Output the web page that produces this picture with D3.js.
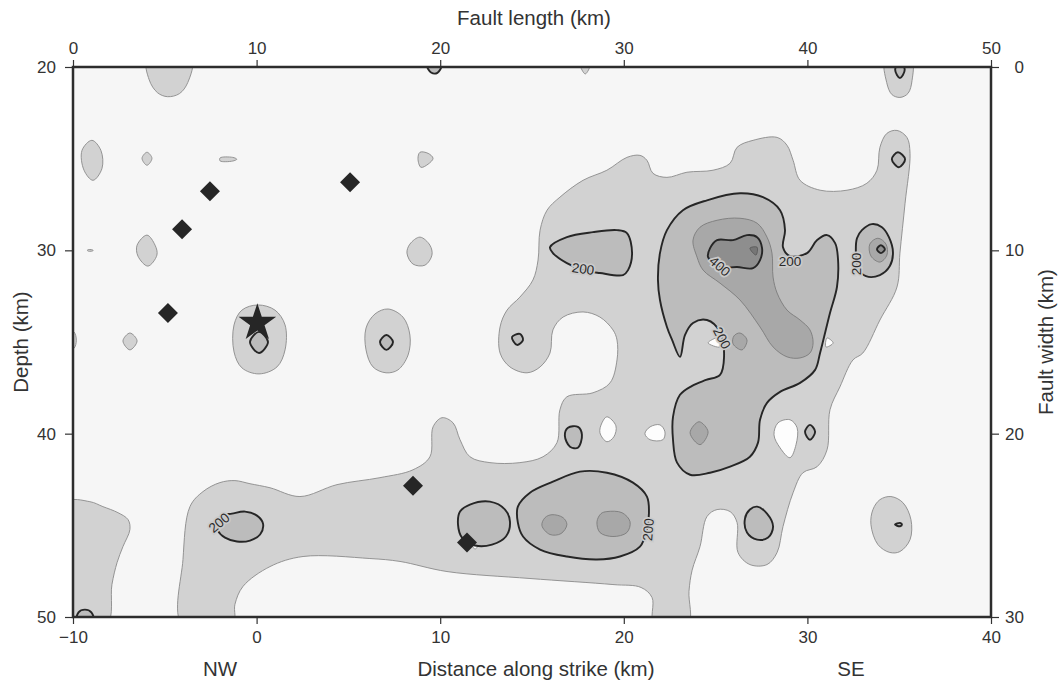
<!DOCTYPE html>
<html><head><meta charset="utf-8">
<script src="https://cdn.jsdelivr.net/npm/d3@7"></script>
<style>
body{margin:0;background:#fff;}
svg text{font-family:"Liberation Sans",Arial,Helvetica,sans-serif;}
</style></head>
<body><svg id="c" width="1064" height="681"></svg>
<script>
// ---- axis ticks ----
const distTicks = [-10, 0, 10, 20, 30, 40];
const depthTicks = [20, 30, 40, 50];
const lengthTicks = [0, 10, 20, 30, 40, 50];
const widthTicks = [0, 10, 20, 30];

// ---- slip contour regions, vertices as [distance along strike km, depth km] ----
// > 100 (light)
const slip100 = [
 [[-4.06,50.4],[-4.01,46.86],[-3.63,43.98],[-2.92,43.16],[-2.0,42.67],[-1.18,42.56],[-0.36,42.73],[0.73,42.95],[2.36,43.43],[4.38,42.78],[6.72,42.40],[8.52,41.97],[9.44,41.26],[9.61,39.63],[10.10,39.13],[10.70,39.41],[11.08,40.33],[11.62,41.26],[12.71,41.58],[14.34,41.58],[15.60,41.26],[16.36,40.49],[16.52,38.70],[16.90,37.99],[18.32,37.77],[19.25,37.23],[19.63,35.98],[19.63,34.89],[19.41,34.34],[18.70,33.64],[17.78,33.36],[16.69,33.64],[16.14,34.34],[15.98,35.60],[15.44,36.36],[14.73,36.68],[13.80,36.36],[13.26,35.60],[13.26,34.18],[13.64,33.26],[14.34,32.55],[15.05,31.62],[15.33,30.53],[15.44,28.90],[15.82,27.81],[16.52,27.10],[17.78,26.18],[19.08,25.63],[20.17,24.93],[20.88,24.82],[21.26,25.09],[21.59,25.80],[22.35,26.02],[23.44,25.74],[24.86,25.63],[25.79,25.25],[26.17,24.38],[27.04,24.0],[28.35,23.84],[28.89,24.27],[29.22,25.09],[29.60,26.18],[30.69,26.72],[32.16,26.72],[33.24,26.34],[33.79,25.63],[33.95,24.38],[34.33,23.62],[34.88,23.46],[35.42,23.84],[35.59,24.71],[35.32,27.43],[35.04,30.15],[34.88,32.0],[33.95,33.80],[33.02,35.60],[32.48,35.98],[31.77,37.45],[31.23,38.70],[31.07,40.88],[30.53,41.80],[29.76,42.13],[29.22,43.22],[28.67,45.07],[28.35,46.48],[27.80,47.14],[26.87,47.14],[26.22,46.48],[26.17,44.85],[25.79,44.25],[25.08,44.14],[24.53,44.52],[24.15,46.16],[23.72,47.45],[23.55,48.6],[23.50,50.4],[21.65,50.4],[21.54,48.94],[20.94,48.39],[19.41,48.23],[14.89,47.90],[10.37,47.52],[7.81,46.97],[6.17,46.81],[2.53,46.70],[0.73,47.25],[-0.74,48.33],[-1.18,49.31],[-1.29,50.4]],
 [[-10.4,43.76],[-9.08,43.71],[-8.37,43.98],[-7.55,44.31],[-7.0,44.69],[-6.90,45.23],[-7.28,46.16],[-7.60,47.03],[-7.88,48.23],[-8.15,50.4],[-10.4,50.4]],
 [[-5.95,19.6],[-5.85,20.7],[-5.4,21.4],[-4.85,21.62],[-4.2,21.45],[-3.75,20.85],[-3.55,19.6]],
 [[34.25,19.6],[34.32,20.85],[34.6,21.5],[35.04,21.66],[35.48,21.44],[35.7,20.73],[35.66,19.6]],
 [[17.65,19.9],[17.9,20.38],[18.15,19.9]],
 [[-8.97,24.0],[-8.48,24.55],[-8.42,25.53],[-8.91,26.18],[-9.40,25.63],[-9.51,24.55]],
 [[-5.97,24.65],[-5.70,24.98],[-5.97,25.36],[-6.24,24.98]],
 [[-1.99,24.96],[-1.3,24.93],[-1.08,25.03],[-1.3,25.13],[-1.99,25.12]],
 [[8.90,24.65],[9.34,24.71],[9.61,24.98],[9.34,25.3],[8.95,25.47],[8.79,25.0]],
 [[-9.2,29.97],[-8.95,29.97],[-8.9,30.0],[-8.95,30.04],[-9.2,30.03]],
 [[-5.97,29.17],[-5.53,29.72],[-5.43,30.26],[-5.92,30.86],[-6.46,30.32],[-6.51,29.72]],
 [[8.90,29.28],[9.44,29.72],[9.55,30.26],[9.17,30.81],[8.52,30.75],[8.19,30.15],[8.35,29.66]],
 [[-6.90,34.51],[-6.51,34.94],[-6.90,35.43],[-7.28,34.94]],
 [[0.08,32.98],[1.0,33.26],[1.55,34.07],[1.55,35.43],[1.11,36.36],[0.13,36.74],[-0.80,36.41],[-1.23,35.54],[-1.23,34.07],[-0.80,33.26]],
 [[7.16,33.20],[7.97,33.64],[8.35,34.62],[8.25,35.71],[7.70,36.52],[7.05,36.68],[6.34,36.36],[5.96,35.43],[5.96,34.24],[6.45,33.47]],
 [[-10.4,34.3],[-9.95,34.45],[-9.82,34.9],[-9.95,35.35],[-10.4,35.5]],
 [[34.55,43.43],[35.20,43.76],[35.64,44.69],[35.59,45.78],[35.04,46.43],[34.49,46.48],[33.84,46.05],[33.46,44.96],[33.57,44.14],[33.95,43.60]]
];
// < 100 holes inside the main region
const slipHoles = [
 [[19.08,39.08],[19.57,39.57],[19.46,40.17],[19.08,40.44],[18.70,39.95],[18.81,39.41]],
 [[21.43,39.63],[21.97,39.52],[22.24,39.90],[22.13,40.33],[21.43,40.33],[21.15,40.0]],
 [[28.40,39.41],[29.05,39.24],[29.44,39.68],[29.38,40.60],[29.05,41.31],[28.51,40.77],[28.18,40.06]],
 [[31.07,34.78],[31.40,35.05],[31.01,35.27]],
 [[24.59,35.05],[25.13,34.78],[25.24,35.27]],
 [[11.78,46.15],[11.9,46.05],[12.02,46.15],[11.9,46.3]]
];
// > 200
const slip200 = [
 [[-1.34,44.36],[-0.63,44.25],[0.02,44.47],[0.35,44.91],[0.19,45.50],[-0.36,45.83],[-1.07,45.88],[-1.72,45.67],[-2.11,45.29],[-2.16,44.80],[-1.88,44.47]],
 [[15.98,29.83],[16.90,29.28],[18.32,29.01],[19.63,28.90],[20.17,29.06],[20.45,30.15],[20.23,31.08],[19.96,31.35],[18.70,31.24],[17.78,31.08],[16.90,30.70],[16.14,30.15]],
 [[23.06,35.81],[22.63,34.89],[22.35,34.18],[21.97,32.71],[21.86,31.62],[21.97,30.15],[22.35,28.90],[23.22,27.81],[24.53,27.27],[26.33,26.89],[27.58,27.10],[28.51,27.81],[28.78,28.90],[28.67,29.83],[29.05,30.31],[29.98,30.15],[30.53,29.44],[31.07,29.17],[31.51,29.61],[31.67,30.53],[31.61,32.00],[31.23,33.42],[30.69,35.60],[30.42,36.52],[29.60,37.23],[28.51,37.72],[27.80,38.32],[27.42,39.24],[27.31,40.49],[26.87,41.26],[25.79,41.80],[24.70,42.13],[23.61,42.24],[22.90,41.58],[22.68,40.33],[22.68,39.08],[23.06,37.88],[23.72,37.39],[24.48,37.07],[25.24,36.79],[25.46,35.81],[25.24,34.45],[24.53,33.80],[23.77,33.96],[23.33,34.62]],
 [[14.23,43.98],[14.89,43.22],[16.14,42.62],[17.61,42.07],[19.08,42.13],[20.50,42.67],[21.26,43.43],[21.37,44.31],[21.26,45.23],[20.88,46.16],[19.79,46.70],[18.54,46.86],[16.90,46.70],[15.44,46.32],[14.51,45.61],[14.23,44.85]],
 [[11.62,43.87],[12.71,43.71],[13.53,44.14],[13.80,44.80],[13.58,45.61],[12.82,46.05],[11.90,46.10],[11.19,45.67],[10.97,44.96],[11.08,44.25]],
 [[16.96,39.68],[17.50,39.63],[17.72,40.06],[17.50,40.77],[17.07,40.71],[16.79,40.11]],
 [[30.14,39.52],[30.42,39.90],[30.14,40.33],[29.87,39.90]],
 [[27.26,43.98],[27.80,44.36],[28.13,45.07],[27.86,45.67],[27.26,45.78],[26.71,45.39],[26.60,44.63],[26.87,44.14]],
 [[32.97,28.90],[33.51,28.57],[34.06,28.74],[34.44,29.28],[34.66,30.10],[34.49,30.86],[33.95,31.35],[33.19,31.41],[32.75,30.97],[32.64,30.10],[32.70,29.34]],
 [[34.93,24.65],[35.32,25.03],[34.98,25.47],[34.60,25.03]],
 [[13.91,34.73],[14.34,34.56],[14.51,34.89],[14.18,35.16]],
 [[0.13,34.45],[0.62,35.0],[0.13,35.60],[-0.36,35.0]],
 [[7.07,34.62],[7.43,35.0],[7.07,35.43],[6.72,35.0]],
 [[35.04,19.7],[35.3,20.15],[35.04,20.6],[34.78,20.15]],
 [[9.3,19.95],[9.5,20.3],[9.85,20.32],[10.05,19.95]],
 [[-9.8,50.4],[-9.7,49.75],[-9.35,49.6],[-9.0,49.75],[-8.85,50.4]],
 [[34.77,44.96],[35.05,44.87],[35.15,44.96],[35.05,45.05]]
];
// > 300
const slip300 = [
 [[24.15,28.74],[25.08,28.36],[26.33,28.25],[27.26,28.52],[27.80,29.28],[28.07,30.15],[28.13,31.46],[28.35,32.33],[28.89,33.26],[29.60,33.80],[30.14,34.34],[30.31,35.05],[30.14,35.60],[29.60,35.87],[28.89,35.81],[28.13,35.27],[27.42,34.18],[26.33,32.71],[25.24,31.79],[24.32,31.08],[23.99,30.37],[23.77,29.44]],
 [[26.33,34.51],[26.71,34.89],[26.44,35.43],[25.95,35.10],[26.0,34.67]],
 [[24.10,39.35],[24.59,39.90],[24.15,40.60],[23.61,39.95]],
 [[16.09,44.42],[16.69,44.58],[16.90,44.96],[16.58,45.45],[15.98,45.50],[15.54,45.01],[15.71,44.58]],
 [[19.08,44.25],[19.90,44.31],[20.34,44.80],[20.17,45.39],[19.41,45.61],[18.70,45.39],[18.54,44.80],[18.76,44.36]],
 [[33.84,29.34],[34.28,29.66],[34.33,30.26],[33.95,30.64],[33.46,30.31],[33.40,29.66]]
];
// > 400
const slip400 = [
 [[24.70,29.88],[25.08,29.44],[25.95,29.44],[26.71,29.17],[27.26,29.28],[27.53,29.88],[27.42,30.53],[27.04,30.97],[26.17,30.91],[25.24,30.91],[24.59,30.37]],
 [[34.0,29.72],[34.22,29.94],[34.0,30.15],[33.79,29.94]]
];
// > 500
const slip500 = [
 [[26.87,29.88],[27.26,29.83],[27.20,30.26]]
];
// contour labels: [distance, depth, angle, text]
const contourLabels = [
 [-2.05,44.85,-40,"200"],
 [17.78,31.0,8,"200"],
 [25.35,34.78,62,"200"],
 [29.05,30.6,0,"200"],
 [32.68,30.75,-90,"200"],
 [25.24,30.86,42,"400"],
 [21.32,45.23,-85,"200"]
];
// events
const aftershocks = [[-2.54,26.78],[5.09,26.29],[-4.06,28.85],[-4.83,33.42],[8.52,42.84],[11.46,45.94]];
const mainshock = [[0.04,33.96]];

// ---- drawing ----
const svg = d3.select("#c");
const L = 73, R = 991, T = 67, B = 617;
const x = d3.scaleLinear().domain([-10, 40]).range([L, R]);
const y = d3.scaleLinear().domain([20, 50]).range([T, B]);
const xTop = d3.scaleLinear().domain([0, 50]).range([L, R]);
const yRight = d3.scaleLinear().domain([0, 30]).range([T, B]);

svg.append("defs").append("clipPath").attr("id","clip")
  .append("rect").attr("x",L).attr("y",T).attr("width",R-L).attr("height",B-T);

svg.append("rect").attr("x",L).attr("y",T).attr("width",R-L).attr("height",B-T).attr("fill","#f6f6f6");

const shape = d3.line().x(d=>x(d[0])).y(d=>y(d[1])).curve(d3.curveCatmullRomClosed.alpha(0.5));
const g = svg.append("g").attr("clip-path","url(#clip)");

function layer(data, fill, stroke, sw){
  g.append("g").selectAll("path").data(data).join("path")
   .attr("d", shape).attr("fill", fill).attr("stroke", stroke).attr("stroke-width", sw)
   .attr("stroke-linejoin","round");
}
layer(slip100, "#d2d2d2", "#8a8a8a", 0.9);
layer(slipHoles, "#fdfdfd", "#8a8a8a", 0.9);
layer(slip200, "#bcbcbc", "#262626", 1.9);
layer(slip300, "#a8a8a8", "#7c7c7c", 0.9);
layer(slip400, "#8e8e8e", "#262626", 1.9);
layer(slip500, "#767676", "#555", 0.8);

g.append("g").selectAll("text").data(contourLabels).join("text")
  .attr("transform", d=>`translate(${x(d[0])},${y(d[1])}) rotate(${d[2]})`)
  .attr("text-anchor","middle").attr("dy","0.36em")
  .attr("font-size",13.5).attr("fill","#2a2a2a")
  .attr("stroke","#cacaca").attr("stroke-width",3.5).attr("paint-order","stroke")
  .text(d=>d[3]);

g.append("g").selectAll("path").data(aftershocks).join("path")
  .attr("d", d3.symbol(d3.symbolSquare, 200))
  .attr("transform", d=>`translate(${x(d[0])},${y(d[1])}) rotate(45)`)
  .attr("fill","#262626");
g.append("g").selectAll("path").data(mainshock).join("path")
  .attr("d", d3.symbol(d3.symbolStar, 440))
  .attr("transform", d=>`translate(${x(d[0])},${y(d[1])})`)
  .attr("fill","#262626");

// axes
function styleAxis(sel){
  sel.select(".domain").remove();
  sel.selectAll(".tick line").attr("stroke","#333").attr("stroke-width",1.2);
  sel.selectAll(".tick text").attr("fill","#333").attr("font-size",17)
     .attr("font-family",'"Liberation Sans",Arial,sans-serif');
}
svg.append("g").attr("transform",`translate(0,${B})`)
  .call(d3.axisBottom(x).tickValues(distTicks).tickSize(7).tickPadding(7)).call(styleAxis);
svg.append("g").attr("transform",`translate(0,${T})`)
  .call(d3.axisTop(xTop).tickValues(lengthTicks).tickSize(7).tickPadding(6)).call(styleAxis);
svg.append("g").attr("transform",`translate(${L},0)`)
  .call(d3.axisLeft(y).tickValues(depthTicks).tickSize(8).tickPadding(9)).call(styleAxis);
const rAx = svg.append("g").attr("transform",`translate(${R},0)`)
  .call(d3.axisRight(yRight).tickValues(widthTicks).tickSize(8).tickPadding(9)).call(styleAxis);
rAx.selectAll(".tick text").attr("text-anchor","end").attr("x",33);

svg.append("rect").attr("x",L).attr("y",T).attr("width",R-L).attr("height",B-T)
  .attr("fill","none").attr("stroke","#2d2d2d").attr("stroke-width",2.5);

function title(t, tx, ty, rot){
  svg.append("text").attr("text-anchor","middle")
    .attr("transform",`translate(${tx},${ty}) rotate(${rot})`)
    .attr("fill","#333").attr("font-size",20.5).text(t);
}
title("Fault length (km)", 534, 25, 0);
title("Depth (km)", 28, 342, -90);
title("Fault width (km)", 1053, 342, -90);
title("NW", 220, 676, 0);
title("Distance along strike (km)", 536, 676, 0);
title("SE", 851, 676, 0);
</script></body></html>
